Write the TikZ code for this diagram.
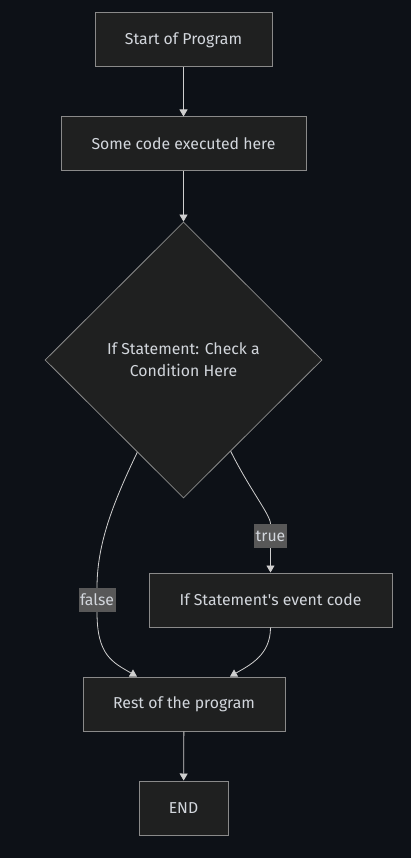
\documentclass[tikz,border=0pt]{standalone}
\usepackage{fontspec}
\setmainfont{Fira Sans}
\usetikzlibrary{calc, arrows.meta, shapes.geometric}

\begin{document}
\begin{tikzpicture}[x=1pt, y=-1pt,
    box/.style={draw=borderColour, fill=fillColour, line width=1pt, text=textColour,
        minimum height=54pt, inner sep=0pt},
    decision/.style={diamond, draw=borderColour, fill=fillColour, line width=0.8pt,
        text=textColour, minimum width=277pt, minimum height=276pt, inner sep=0pt, align=center},
    lbl/.style={fill=labelColour, text=textColour, inner sep=1.5pt, minimum height=24pt},
    flow/.style={draw=lineColour, line width=0.8pt, -{Triangle[width=8pt,length=7pt]}},
    plain/.style={draw=lineColour, line width=0.8pt}]
    % Define colors
    \definecolor{bgColour}{HTML}{0D1117}
    \definecolor{borderColour}{HTML}{8A8A8A}
    \definecolor{fillColour}{HTML}{1F2020}
    \definecolor{textColour}{HTML}{D2D6DC}
    \definecolor{labelColour}{HTML}{585858}
    \definecolor{lineColour}{HTML}{CFCFCF}

    % Background and page size
    \fill[bgColour] (0,0) rectangle (411,858);
    \useasboundingbox (0,0) rectangle (411,858);

    \fontsize{15.8}{19}\selectfont

    % Main nodes
    \node[box, minimum width=177pt] (start) at (183.5,40) {Start of Program};
    \node[box, minimum width=245pt] (code) at (183.5,144) {Some code executed here};
    \node[decision] (check) at (183.5,360) {If Statement: Check a\\[3pt]Condition Here};
    \node[box, minimum width=243pt] (event) at (270.5,600) {If Statement\textquotesingle s event code};
    \node[box, minimum width=202pt] (rest) at (184,704) {Rest of the program};
    \node[box, minimum width=89pt] (end) at (183.5,808) {END};

    % Edge labels
    \node[lbl] (ltrue) at (270.5,536) {true};
    \node[lbl] (lfalse) at (97,600) {false};

    % Points where the branches leave the diamond
    \coordinate (fs) at ($(check.west)!0.667!(check.south)$);
    \coordinate (ts) at ($(check.south)!0.34!(check.east)$);

    % Straight connectors
    \draw[flow] (start) -- (code);
    \draw[flow] (code) -- (check);
    \draw[flow] (rest) -- (end);

    % True branch
    \draw[plain] (ts) .. controls (250,490) and (270.5,515) .. (ltrue.north);
    \draw[flow] (ltrue) -- (event);
    \draw[flow] (event.south) .. controls (270.5,655) and (250,665) .. ($(rest.north)+(46,0)$);

    % False branch
    \draw[plain] (fs) .. controls (112,505) and (97,545) .. (lfalse.north);
    \draw[flow] (lfalse.south) .. controls (97,655) and (112,662) .. ($(rest.north)+(-47,0)$);

\end{tikzpicture}
\end{document}
